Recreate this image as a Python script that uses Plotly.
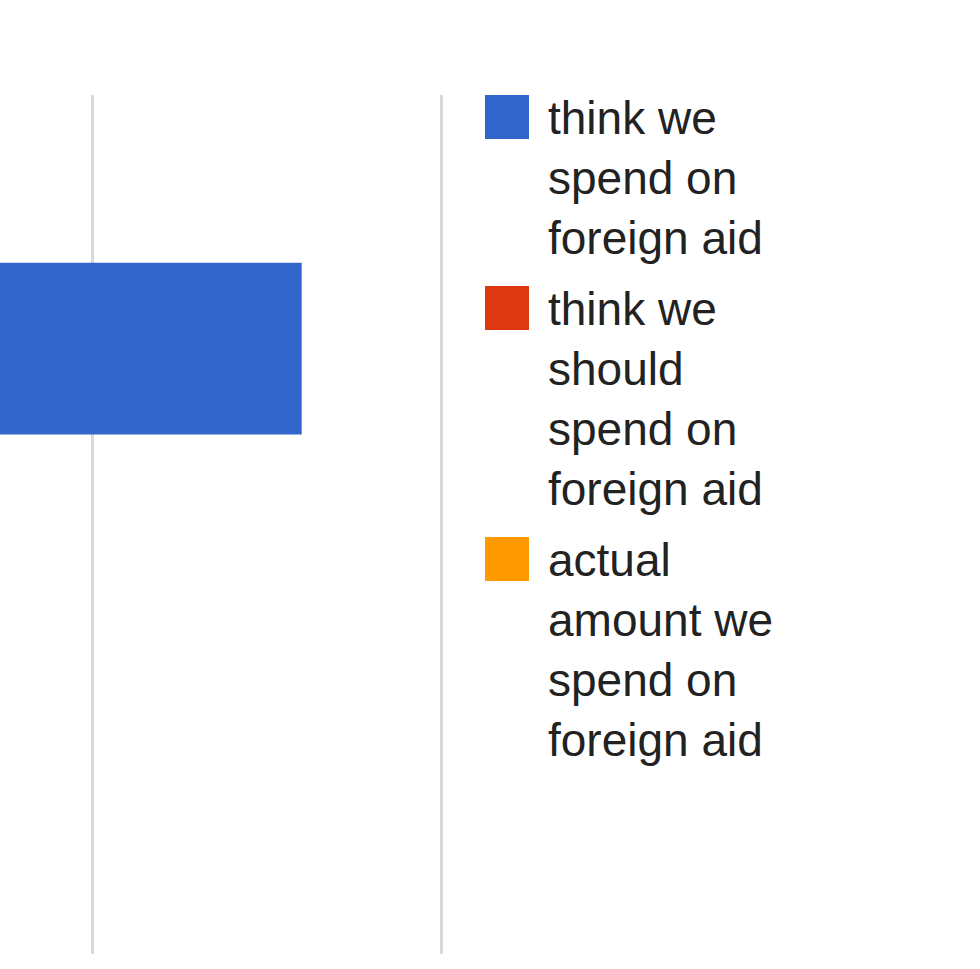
import plotly.graph_objects as go

# data
category = ["foreign aid"]
series_names = [
    "think we spend on foreign aid",
    "think we should spend on foreign aid",
    "actual amount we spend on foreign aid",
]
legend_lines = [
    ["think we", "spend on", "foreign aid"],
    ["think we", "should", "spend on", "foreign aid"],
    ["actual", "amount we", "spend on", "foreign aid"],
]
values = [26, 10, 1]
colors = ["#3366cc", "#dc3912", "#ff9900"]

W, H = 980, 969
plot_w, plot_top, plot_bot = 460, 95, 954
plot_h = plot_bot - plot_top

fig = go.Figure()
for name, v, c in zip(series_names, values, colors):
    fig.add_trace(go.Bar(
        y=category, x=[v], name=name, orientation="h",
        marker=dict(color=c, line=dict(width=0)),
        showlegend=False,
    ))

# hand-drawn legend (big squares + wrapped text lines)
def px_x(p):
    return p / plot_w

def px_y(p):
    return (plot_bot - p) / plot_h

shapes, annos = [], []
yc = 117
for lines, c in zip(legend_lines, colors):
    shapes.append(dict(type="rect", xref="paper", yref="paper",
                       x0=px_x(485), x1=px_x(529), y0=px_y(yc - 22), y1=px_y(yc + 22),
                       fillcolor=c, line=dict(width=0)))
    for i, ln in enumerate(lines):
        annos.append(dict(text=ln, xref="paper", yref="paper", x=px_x(546), y=px_y(yc + i * 60 + 1),
                          xanchor="left", yanchor="middle", showarrow=False,
                          font=dict(size=46, color="#222222")))
    yc += (len(lines) - 1) * 60 + 71

fig.update_layout(
    width=W, height=H,
    barmode="group", bargap=0.4,
    margin=dict(l=0, r=W - plot_w, t=plot_top, b=H - plot_bot, pad=0),
    paper_bgcolor="white", plot_bgcolor="white",
    font=dict(family="Liberation Sans, Arial, sans-serif"),
    xaxis=dict(range=[20 - 92 / 34.95, 20 + (plot_w - 92) / 34.95], dtick=10, tick0=0,
               showgrid=True, gridcolor="#d9d9d9", gridwidth=3,
               zeroline=False, showline=False, showticklabels=False, ticks=""),
    yaxis=dict(range=[0.5047, -0.4953], showgrid=False, zeroline=False,
               showline=False, showticklabels=False, ticks=""),
    shapes=shapes, annotations=annos,
)

# drop the browser's default body margin so the chart sits at the page corner
fig.write_html("out.html", config={"displayModeBar": False},
               post_script="document.body.style.margin='0';")
